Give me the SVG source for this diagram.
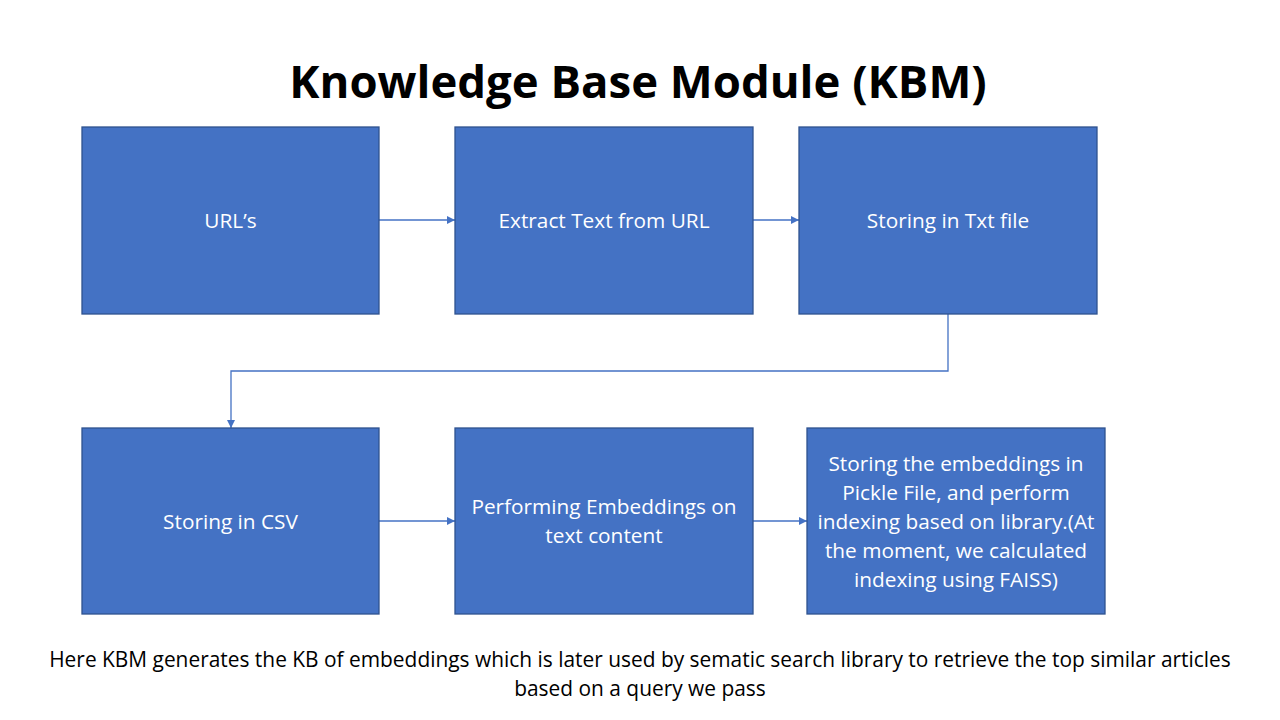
<svg xmlns="http://www.w3.org/2000/svg" width="1280" height="720" viewBox="0 0 1280 720">
<style>
.box{fill:#4472C4;stroke:#2F528F;stroke-width:1.3}
.lbl{font-family:"Open Sans","Liberation Sans",sans-serif;font-size:20.8px;fill:#fff;text-anchor:middle}
.conn{fill:none;stroke:#4472C4;stroke-width:1.3}
.title{font-family:"Open Sans","Liberation Sans",sans-serif;font-size:45.5px;font-weight:bold;fill:#000;text-anchor:middle}
.note{font-family:"Open Sans","Liberation Sans",sans-serif;font-size:20.9px;fill:#000;text-anchor:middle}
</style>
<defs>
<marker id="arr" markerWidth="10" markerHeight="10" refX="8" refY="4" orient="auto" markerUnits="userSpaceOnUse">
<path d="M0,0 L8,4 L0,8 Z" fill="#4472C4"/>
</marker>
</defs>
<rect width="1280" height="720" fill="#fff"/>
<text class="title" x="638" y="98">Knowledge Base Module (KBM)</text>
<g id="connectors">
<path class="conn" d="M379,220 L455,220" marker-end="url(#arr)"/>
<path class="conn" d="M753,220 L799,220" marker-end="url(#arr)"/>
<path class="conn" d="M948,314 L948,371 L231,371 L231,428" marker-end="url(#arr)"/>
<path class="conn" d="M379,521 L455,521" marker-end="url(#arr)"/>
<path class="conn" d="M753,521 L807,521" marker-end="url(#arr)"/>
</g>
<g id="n1"><rect class="box" x="82" y="127" width="297" height="187"/><text class="lbl" x="230.5" y="228">URL’s</text></g>
<g id="n2"><rect class="box" x="455" y="127" width="298" height="187"/><text class="lbl" x="604" y="228">Extract Text from URL</text></g>
<g id="n3"><rect class="box" x="799" y="127" width="298" height="187"/><text class="lbl" x="948" y="228">Storing in Txt file</text></g>
<g id="n4"><rect class="box" x="82" y="428" width="297" height="186"/><text class="lbl" x="230.5" y="529">Storing in CSV</text></g>
<g id="n5"><rect class="box" x="455" y="428" width="298" height="186"/><text class="lbl" x="604" y="514">Performing Embeddings on</text><text class="lbl" x="604" y="543">text content</text></g>
<g id="n6"><rect class="box" x="807" y="428" width="298" height="186"/>
<text class="lbl" x="956" y="471">Storing the embeddings in</text>
<text class="lbl" x="956" y="500">Pickle File, and perform</text>
<text class="lbl" x="956" y="529">indexing based on library.(At</text>
<text class="lbl" x="956" y="558">the moment, we calculated</text>
<text class="lbl" x="956" y="587">indexing using FAISS)</text>
</g>
<text class="note" x="640" y="667">Here KBM generates the KB of embeddings which is later used by sematic search library to retrieve the top similar articles</text>
<text class="note" x="640" y="696">based on a query we pass</text>
</svg>
